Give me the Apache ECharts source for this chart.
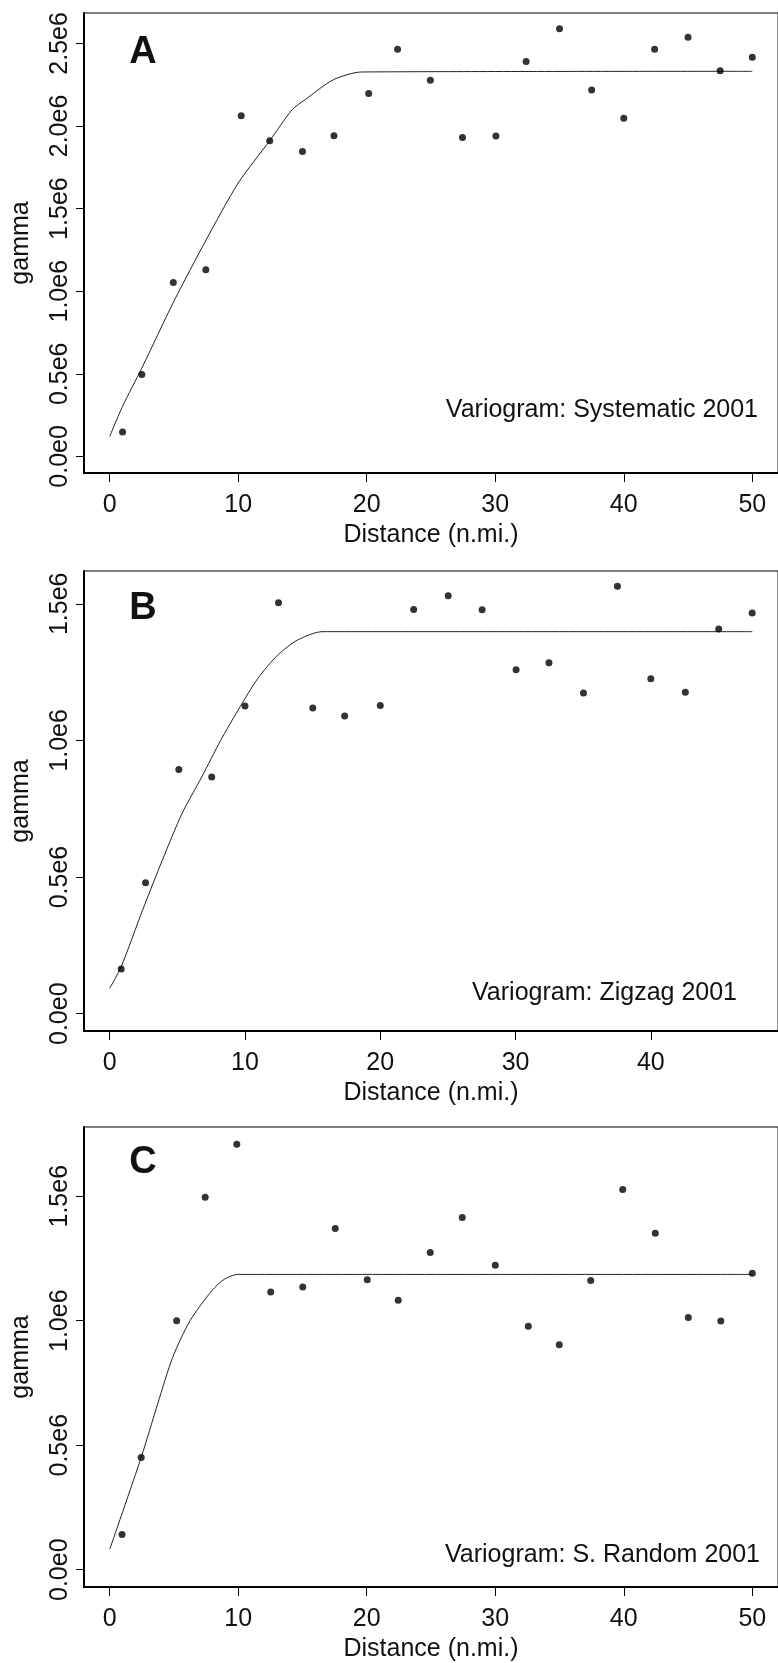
<!DOCTYPE html>
<html><head><meta charset="utf-8">
<script src="https://cdn.jsdelivr.net/npm/echarts@6/dist/echarts.min.js"></script>
<style>html,body{margin:0;padding:0;background:#fff}#c{width:778px;height:1663px}</style>
</head><body><div id="c"></div>
<script>
// ---- Panel A: Systematic 2001 ----
const distA  = [1.0, 2.5, 4.95, 7.48, 10.23, 12.45, 15.0, 17.45, 20.15, 22.4, 24.95, 27.45, 30.05, 32.4, 35.0, 37.5, 40.0, 42.4, 45.0, 47.5, 50.0];
const gammaA = [0.148e6, 0.495e6, 1.053e6, 1.130e6, 2.062e6, 1.911e6, 1.846e6, 1.941e6, 2.196e6, 2.465e6, 2.277e6, 1.930e6, 1.939e6, 2.390e6, 2.589e6, 2.218e6, 2.047e6, 2.465e6, 2.537e6, 2.335e6, 2.416e6];
const modelDistA  = [0, 1.0, 2.5, 5.0, 7.5, 10.0, 12.45, 14.2, 15.2, 17.4, 19.6, 50];
const modelGammaA = [0.121e6, 0.303e6, 0.535e6, 0.94e6, 1.31e6, 1.655e6, 1.911e6, 2.099e6, 2.159e6, 2.28e6, 2.327e6, 2.331e6];

// ---- Panel B: Zigzag 2001 ----
const distB  = [0.85, 2.65, 5.11, 7.54, 10.0, 12.48, 15.01, 17.37, 20.0, 22.47, 25.02, 27.53, 30.04, 32.47, 35.02, 37.53, 40.0, 42.55, 45.02, 47.49];
const gammaB = [0.164e6, 0.479e6, 0.894e6, 0.866e6, 1.126e6, 1.504e6, 1.119e6, 1.089e6, 1.128e6, 1.479e6, 1.529e6, 1.478e6, 1.259e6, 1.284e6, 1.174e6, 1.564e6, 1.226e6, 1.176e6, 1.408e6, 1.466e6];
const modelDistB  = [0, 0.85, 2.43, 3.9, 5.35, 6.81, 8.2, 9.49, 10.95, 12.41, 13.87, 15.7, 47.5];
const modelGammaB = [0.093e6, 0.172e6, 0.379e6, 0.563e6, 0.733e6, 0.867e6, 1.0e6, 1.111e6, 1.227e6, 1.312e6, 1.367e6, 1.398e6, 1.398e6];

// ---- Panel C: S. Random 2001 ----
const distC  = [0.96, 2.45, 5.21, 7.43, 9.89, 12.53, 15.02, 17.55, 20.04, 22.45, 24.94, 27.43, 30.0, 32.57, 34.98, 37.43, 39.92, 42.45, 45.02, 47.55, 50.0];
const gammaC = [0.1415e6, 0.451e6, 1.0e6, 1.496e6, 1.709e6, 1.115e6, 1.135e6, 1.370e6, 1.165e6, 1.082e6, 1.274e6, 1.415e6, 1.223e6, 0.978e6, 0.903e6, 1.162e6, 1.527e6, 1.351e6, 1.013e6, 0.999e6, 1.191e6];
const modelDistC  = [0, 2.45, 3.75, 4.9, 6.25, 7.97, 8.93, 9.96, 50];
const modelGammaC = [0.082e6, 0.451e6, 0.669e6, 0.853e6, 1.0e6, 1.122e6, 1.167e6, 1.186e6, 1.186e6];

// ---- tick labels ----
const xTicksAC = [0, 10, 20, 30, 40, 50];
const xTicksB  = [0, 10, 20, 30, 40];
const yTicksA  = [0, 0.5e6, 1.0e6, 1.5e6, 2.0e6, 2.5e6];
const yTicksBC = [0, 0.5e6, 1.0e6, 1.5e6];
const panelLetters = ['A', 'B', 'C'];
const panelNotes = ['Variogram: Systematic 2001', 'Variogram: Zigzag 2001', 'Variogram: S. Random 2001'];

const FONT = '"Liberation Sans", Arial, Helvetica, sans-serif';
const FS = 25;

const panels = [
  {dist: distA, gamma: gammaA, mx: modelDistA, my: modelGammaA, xt: xTicksAC, yt: yTicksA,
   grid: {left: 84, top: 13, width: 698, height: 460}, xr: [-2, 52], yr: [-0.1005e6, 2.684e6],
   letter: [143, 53], note: [758, 410]},
  {dist: distB, gamma: gammaB, mx: modelDistB, my: modelGammaB, xt: xTicksB, yt: yTicksBC,
   grid: {left: 84, top: 571, width: 703, height: 460}, xr: [-1.9, 49.4], yr: [-0.0633e6, 1.620e6],
   letter: [143, 609], note: [737, 993]},
  {dist: distC, gamma: gammaC, mx: modelDistC, my: modelGammaC, xt: xTicksAC, yt: yTicksBC,
   grid: {left: 84, top: 1127, width: 698, height: 460}, xr: [-2, 52], yr: [-0.0694e6, 1.778e6],
   letter: [143, 1163], note: [760, 1555]}
];

function yFmt(v) {
  if (v === 0) return '0.0e0';
  return (v / 1e6).toFixed(1) + 'e6';
}

const option = {
  animation: false,
  backgroundColor: '#fff',
  textStyle: {fontFamily: FONT},
  grid: [], xAxis: [], yAxis: [], series: [], graphic: []
};

panels.forEach((p, i) => {
  option.grid.push(Object.assign({show: true, borderColor: '#555', borderWidth: 1.3, backgroundColor: 'transparent', containLabel: false}, p.grid));
  option.xAxis.push({
    type: 'value', gridIndex: i, min: p.xr[0], max: p.xr[1],
    name: 'Distance (n.mi.)', nameLocation: 'middle', nameGap: 50,
    nameTextStyle: {fontFamily: FONT, fontSize: FS, color: '#111'},
    axisLine: {show: true, onZero: false, lineStyle: {color: '#000', width: 2}},
    axisTick: {show: true, length: 9, customValues: p.xt, lineStyle: {color: '#000', width: 1}},
    axisLabel: {show: true, customValues: p.xt, margin: 20, fontFamily: FONT, fontSize: FS, color: '#111',
      showMinLabel: true, showMaxLabel: true},
    splitLine: {show: false}
  });
  option.yAxis.push({
    type: 'value', gridIndex: i, min: p.yr[0], max: p.yr[1],
    name: 'gamma', nameLocation: 'middle', nameGap: 50,
    nameTextStyle: {fontFamily: FONT, fontSize: FS, color: '#111'},
    axisLine: {show: true, onZero: false, lineStyle: {color: '#000', width: 2}},
    axisTick: {show: true, length: 8, customValues: p.yt, lineStyle: {color: '#000', width: 1}},
    axisLabel: {show: true, customValues: p.yt, rotate: 90, margin: 11, fontFamily: FONT, fontSize: FS, color: '#111',
      formatter: yFmt},
    splitLine: {show: false}
  });
  option.series.push({
    type: 'line', xAxisIndex: i, yAxisIndex: i, symbol: 'none', silent: true,
    smooth: 0.25,
    data: p.mx.map((x, k) => [x, p.my[k]]),
    lineStyle: {color: '#222', width: 1}, z: 2
  });
  option.series.push({
    type: 'scatter', xAxisIndex: i, yAxisIndex: i, symbol: 'circle', symbolSize: 7,
    data: p.dist.map((x, k) => [x, p.gamma[k]]),
    itemStyle: {color: '#000'}, z: 3
  });
  option.graphic.push({
    type: 'text', x: p.letter[0], y: p.letter[1],
    style: {text: panelLetters[i], font: 'bold 38px ' + FONT, fill: '#111', align: 'center', verticalAlign: 'middle'}
  });
  option.graphic.push({
    type: 'text', x: p.note[0], y: p.note[1],
    style: {text: panelNotes[i], font: FS + 'px ' + FONT, fill: '#111', align: 'right', verticalAlign: 'middle'}
  });
});

const chart = echarts.init(document.getElementById('c'), null, {renderer: 'canvas', width: 778, height: 1663});
chart.setOption(option);
</script>
</body></html>
